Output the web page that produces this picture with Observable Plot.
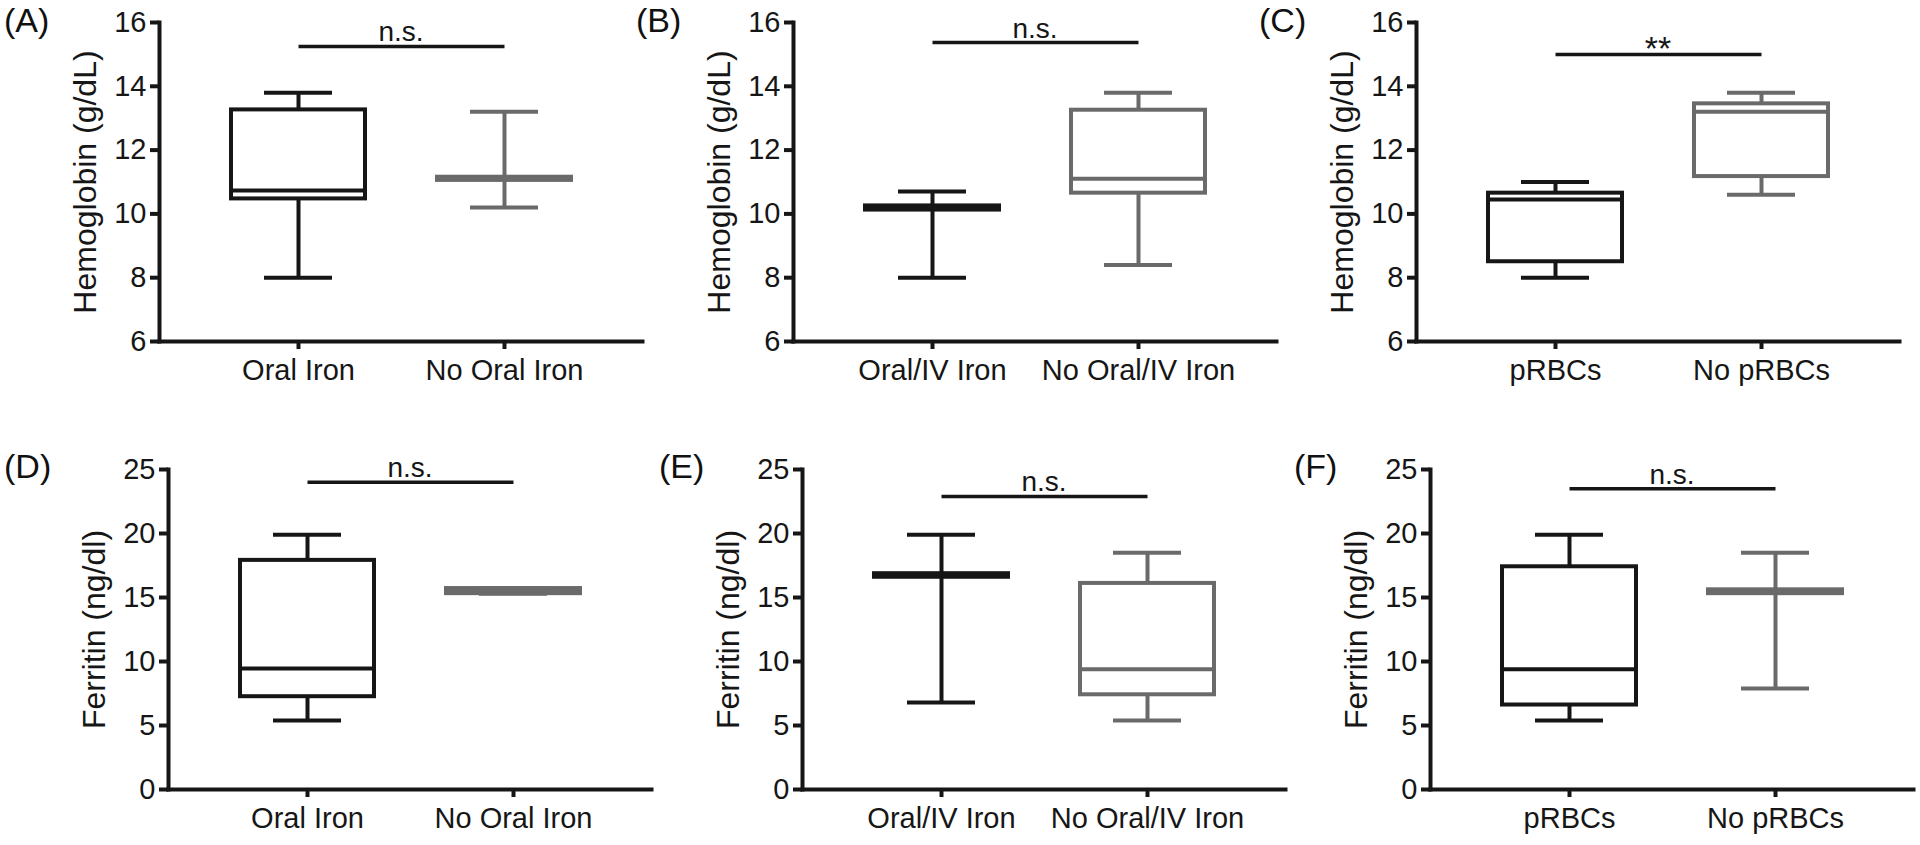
<!DOCTYPE html>
<html><head><meta charset="utf-8">
<script src="https://cdn.jsdelivr.net/npm/d3@7"></script>
<script src="https://cdn.jsdelivr.net/npm/@observablehq/plot@0.6"></script>
<style>
body{margin:0;background:#fff;}
#fig{position:relative;width:1920px;height:845px;font-family:"Liberation Sans",Arial,Helvetica,sans-serif;overflow:hidden;background:#fff}
.panel{position:absolute}
.tag{position:absolute;font-size:34px;line-height:34px;color:#111;white-space:nowrap}
</style></head><body><div id="fig"></div>
<script>
// ---- data ----
const categoriesA = ["Oral Iron", "No Oral Iron"];
const categoriesB = ["Oral/IV Iron", "No Oral/IV Iron"];
const categoriesC = ["pRBCs", "No pRBCs"];
// five-number summaries per category: [min, q1, median, q3, max]
const hemoglobinA = [[8.0, 10.47, 10.73, 13.26, 13.8], [10.2, 11.05, 11.1, 11.15, 13.2]];
const hemoglobinB = [[8.0, 10.12, 10.19, 10.25, 10.7], [8.4, 10.65, 11.1, 13.25, 13.8]];
const hemoglobinC = [[8.0, 8.5, 10.45, 10.65, 11.0], [10.6, 11.17, 13.2, 13.45, 13.8]];
const ferritinD = [[5.4, 7.25, 9.45, 17.9, 19.9], [15.3, 15.3, 15.5, 15.7, 15.7]];
const ferritinE = [[6.8, 16.58, 16.72, 16.86, 19.9], [5.4, 7.4, 9.4, 16.1, 18.5]];
const ferritinF = [[5.4, 6.6, 9.4, 17.4, 19.9], [7.9, 15.3, 15.45, 15.6, 18.5]];
const hemoglobinTicks = [6, 8, 10, 12, 14, 16];
const ferritinTicks = [0, 5, 10, 15, 20, 25];
const panelTags = ["(A)", "(B)", "(C)", "(D)", "(E)", "(F)"];
const significanceText = ["n.s.", "n.s.", "**", "n.s.", "n.s.", "n.s."];
const significanceLevel = [15.25, 15.37, 15.0, 24.0, 22.9, 23.5];
const yLabels = ["Hemoglobin (g/dL)", "Ferritin (ng/dl)"];
const groupColors = ["#161616", "#6a6a6a"];

// ---- layout (positions & styles) ----
const rowsCfg = [
  {top: 0, height: 420, marginTop: 22, marginBottom: 79, tagTop: 3},
  {top: 420, height: 425, marginTop: 49, marginBottom: 56, tagTop: 449}
];
const panelsCfg = [
  {cats: categoriesA, stats: hemoglobinA, ticks: hemoglobinTicks, row: 0, axisX: 159, tagX: 4},
  {cats: categoriesB, stats: hemoglobinB, ticks: hemoglobinTicks, row: 0, axisX: 793, tagX: 636},
  {cats: categoriesC, stats: hemoglobinC, ticks: hemoglobinTicks, row: 0, axisX: 1416, tagX: 1259},
  {cats: categoriesA, stats: ferritinD, ticks: ferritinTicks, row: 1, axisX: 168, tagX: 4},
  {cats: categoriesB, stats: ferritinE, ticks: ferritinTicks, row: 1, axisX: 802, tagX: 659},
  {cats: categoriesC, stats: ferritinF, ticks: ferritinTicks, row: 1, axisX: 1430, tagX: 1294}
];
const ML = 140, PLOTW = 483, MR = 12;
const INK = "#161616";
const FONT = '"Liberation Sans", Arial, Helvetica, sans-serif';
const fig = document.getElementById("fig");

panelsCfg.forEach((p, k) => {
  const r = rowsCfg[p.row];
  const rows = p.cats.map((c, i) => ({
    cat: c, min: p.stats[i][0], q1: p.stats[i][1], med: p.stats[i][2], q3: p.stats[i][3], max: p.stats[i][4],
    color: groupColors[i]
  }));
  const sig = [{a: p.cats[0], b: p.cats[1], y: significanceLevel[k], t: significanceText[k]}];
  const isStars = significanceText[k] === "**";
  const svg = Plot.plot({
    width: ML + PLOTW + MR, height: r.height,
    marginLeft: ML, marginRight: MR, marginTop: r.marginTop, marginBottom: r.marginBottom,
    style: {fontFamily: FONT, fontSize: "29px", color: INK, background: "transparent", overflow: "visible", maxWidth: "none"},
    x: {type: "band", domain: p.cats, paddingInner: 0.35, paddingOuter: 0.345, axis: null},
    y: {domain: [p.ticks[0], p.ticks[p.ticks.length - 1]], axis: null},
    color: {type: "identity"},
    marks: [
      Plot.ruleX(rows, {x: "cat", y1: "min", y2: "max", stroke: "color", strokeWidth: 4}),
      Plot.tickY(rows, {x: "cat", y: "min", stroke: "color", strokeWidth: 4, insetLeft: 33, insetRight: 33}),
      Plot.tickY(rows, {x: "cat", y: "max", stroke: "color", strokeWidth: 4, insetLeft: 33, insetRight: 33}),
      Plot.barY(rows, {x: "cat", y1: "q1", y2: "q3", fill: "white", stroke: "color", strokeWidth: 4}),
      Plot.tickY(rows, {x: "cat", y: "med", stroke: "color", strokeWidth: 4}),
      Plot.link(sig, {x1: "a", x2: "b", y1: "y", y2: "y", stroke: INK, strokeWidth: 3.5}),
      Plot.text(sig, {y: "y", text: "t", frameAnchor: "middle", lineAnchor: "bottom", dy: isStars ? 6 : -5,
        fontSize: isStars ? 34 : 28, fill: INK}),
      Plot.frame({anchor: "left", stroke: INK, strokeWidth: 4, strokeLinecap: "square"}),
      Plot.frame({anchor: "bottom", stroke: INK, strokeWidth: 4, strokeLinecap: "square"}),
      Plot.axisX({tickSize: 8, tickPadding: 10, strokeWidth: 4, label: null, fontSize: 29, stroke: INK, fill: INK}),
      Plot.axisY({ticks: p.ticks, tickSize: 9, tickPadding: 4, strokeWidth: 4, label: null, fontSize: 29, stroke: INK, fill: INK}),
      Plot.text([yLabels[p.row]], {frameAnchor: "left", rotate: -90, dx: -74, text: (d) => d, fontSize: 32,
        textAnchor: "middle", lineAnchor: "middle", fill: INK})
    ]
  });
  const div = document.createElement("div");
  div.className = "panel";
  div.style.left = (p.axisX - ML) + "px";
  div.style.top = r.top + "px";
  div.appendChild(svg);
  fig.appendChild(div);
  const tag = document.createElement("div");
  tag.className = "tag";
  tag.style.left = p.tagX + "px";
  tag.style.top = r.tagTop + "px";
  tag.textContent = panelTags[k];
  fig.appendChild(tag);
});
</script></body></html>
